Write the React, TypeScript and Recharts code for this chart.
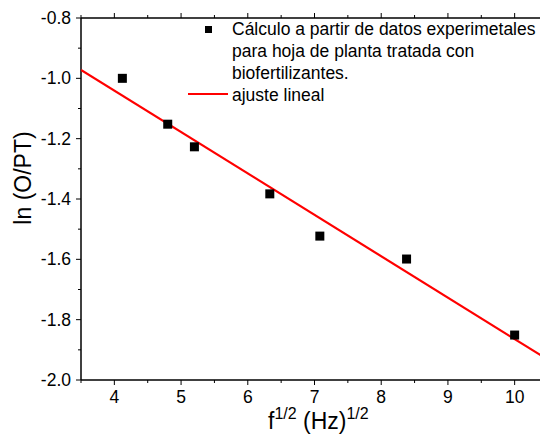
import React from 'react';
import { ComposedChart, Scatter, XAxis, YAxis } from 'recharts';

const xValues = [4.12, 4.8, 5.2, 6.33, 7.08, 8.38, 10.0];
const yValues = [-1.0, -1.152, -1.227, -1.383, -1.523, -1.599, -1.851];
const fitX = [3.5, 10.5];
const fitY = [-0.972, -1.933];
const xTicks = [3.5, 4, 4.5, 5, 5.5, 6, 6.5, 7, 7.5, 8, 8.5, 9, 9.5, 10, 10.5];
const yTicks = [-2.0, -1.9, -1.8, -1.7, -1.6, -1.5, -1.4, -1.3, -1.2, -1.1, -1.0, -0.9, -0.8];
const legendLines = [
    'Cálculo a partir de datos experimetales',
    'para hoja de planta tratada con',
    'biofertilizantes.',
];
const fitLabel = 'ajuste lineal';

const points = xValues.map((x, i) => ({ x, y: yValues[i] }));
const fitLine = fitX.map((x, i) => ({ x, y: fitY[i] }));

const FONT = 'Arial, "Liberation Sans", sans-serif';

function isMajorX(v: number) {
    return Math.abs(v - Math.round(v)) < 1e-6;
}
function isMajorY(v: number) {
    return Math.abs(Math.round(v * 10) % 2) === 0;
}

function BottomTick({ x, y, payload }: any) {
    const major = isMajorX(payload.value);
    const show = major && payload.value >= 4 && payload.value <= 10;
    return (
        <g>
            <line x1={x} y1={y} x2={x} y2={y + (major ? 5 : 3)} stroke="#000" strokeWidth={1} />
            {show && (
                <text x={x} y={y + 23} textAnchor="middle" fontSize={17.5} fontFamily={FONT} fill="#000">
                    {payload.value}
                </text>
            )}
        </g>
    );
}

function TopTick({ x, y, payload }: any) {
    const major = isMajorX(payload.value);
    return <line x1={x} y1={y} x2={x} y2={y - (major ? 5 : 3)} stroke="#000" strokeWidth={1} />;
}

function LeftTick({ x, y, payload }: any) {
    const major = isMajorY(payload.value);
    return (
        <g>
            <line x1={x} y1={y} x2={x - (major ? 5 : 3)} y2={y} stroke="#000" strokeWidth={1} />
            {major && (
                <text x={x - 10} y={y + 6} textAnchor="end" fontSize={17.5} fontFamily={FONT} fill="#000">
                    {payload.value.toFixed(1)}
                </text>
            )}
        </g>
    );
}

function SquareDot({ cx, cy }: any) {
    return <rect x={cx - 4.5} y={cy - 4.5} width={9} height={9} fill="#000" />;
}

const supStyle: React.CSSProperties = { fontSize: 16, position: 'relative', top: -10, verticalAlign: 'baseline', lineHeight: 0 };

export default function App() {
    return (
        <div style={{ position: 'absolute', left: 0, top: 0, width: 540, height: 435, overflow: 'hidden', background: '#fff', fontFamily: FONT }}>
            <ComposedChart width={560} height={435} margin={{ top: 8, right: 2, bottom: 25, left: 21 }}>
                <XAxis
                    xAxisId="b"
                    type="number"
                    dataKey="x"
                    domain={[3.5, 10.5]}
                    ticks={xTicks}
                    height={30}
                    tickSize={0}
                    tickMargin={0}
                    tickLine={false}
                    interval={0}
                    stroke="#000"
                    strokeWidth={1.5}
                    tick={<BottomTick />}
                    allowDataOverflow
                />
                <XAxis
                    xAxisId="t"
                    orientation="top"
                    type="number"
                    dataKey="x"
                    domain={[3.5, 10.5]}
                    ticks={xTicks}
                    height={10}
                    tickSize={0}
                    tickMargin={0}
                    tickLine={false}
                    interval={0}
                    stroke="#000"
                    strokeWidth={1.5}
                    tick={<TopTick />}
                    allowDataOverflow
                />
                <YAxis
                    yAxisId="l"
                    type="number"
                    dataKey="y"
                    domain={[-2.0, -0.8]}
                    ticks={yTicks}
                    width={60}
                    tickSize={0}
                    tickMargin={0}
                    tickLine={false}
                    interval={0}
                    stroke="#000"
                    strokeWidth={1.5}
                    tick={<LeftTick />}
                    allowDataOverflow
                />
                <YAxis
                    yAxisId="r"
                    orientation="right"
                    type="number"
                    domain={[-2.0, -0.8]}
                    width={10}
                    tick={false}
                    tickLine={false}
                    stroke="#000"
                    strokeWidth={1.5}
                />
                <Scatter
                    xAxisId="b"
                    yAxisId="l"
                    data={fitLine}
                    line={{ stroke: '#ff0000', strokeWidth: 2.2 }}
                    shape={() => null}
                    isAnimationActive={false}
                />
                <Scatter
                    xAxisId="b"
                    yAxisId="l"
                    data={points}
                    shape={<SquareDot />}
                    isAnimationActive={false}
                />
            </ComposedChart>

            {/* y axis title */}
            <div style={{ position: 'absolute', left: 23, top: 178, transform: 'translate(-50%, -50%) rotate(-90deg)', fontSize: 23, whiteSpace: 'nowrap', color: '#000' }}>
                ln (O/PT)
            </div>

            {/* x axis title */}
            <div style={{ position: 'absolute', left: 268, top: 409, fontSize: 23, whiteSpace: 'nowrap', color: '#000', lineHeight: '24px' }}>
                f<span style={supStyle}>1/2</span> (Hz)<span style={supStyle}>1/2</span>
            </div>

            {/* legend */}
            <div style={{ position: 'absolute', left: 205, top: 26, width: 7, height: 7, background: '#000' }} />
            <div style={{ position: 'absolute', left: 188, top: 93, width: 40, height: 2, background: '#ff0000' }} />
            <div style={{ position: 'absolute', left: 232, top: 18, fontSize: 17.5, lineHeight: '22px', color: '#000', whiteSpace: 'nowrap' }}>
                {legendLines.map(l => (
                    <div key={l}>{l}</div>
                ))}
                <div>{fitLabel}</div>
            </div>
        </div>
    );
}
